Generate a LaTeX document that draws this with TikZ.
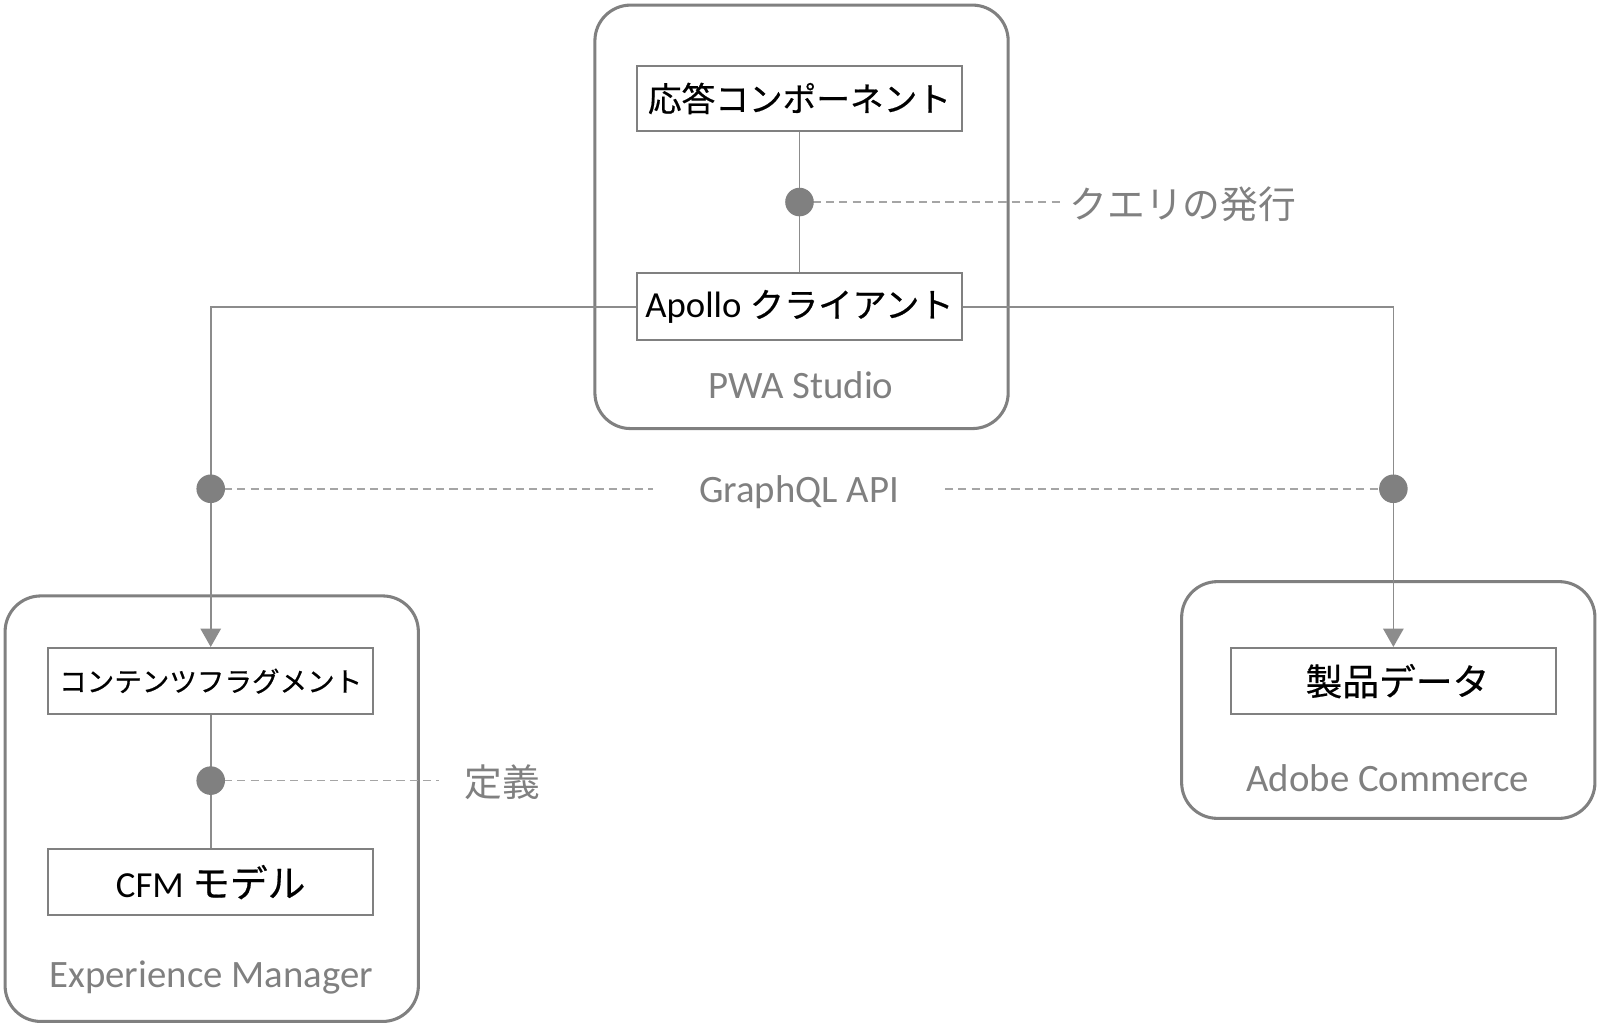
\documentclass[tikz,border=0pt]{standalone}
\usepackage{fontspec}
\setmainfont{Carlito}
\newfontfamily\jp{Noto Sans CJK JP}
\newfontfamily\jpb[FakeBold=0.5]{Noto Sans CJK JP}
\usetikzlibrary{arrows.meta}
\definecolor{cborder}{RGB}{128,128,128}
\definecolor{cline}{RGB}{140,140,140}
\definecolor{cdash}{RGB}{165,165,165}
\definecolor{ctext}{RGB}{128,128,128}
\newcommand{\jpsz}[1]{\fontsize{#1}{#1}\selectfont}
\tikzset{
  container/.style={draw=cborder, line width=3pt, rounded corners=35pt, rectangle, inner sep=0pt},
  compbox/.style={draw=cborder, line width=2pt, fill=white, rectangle, minimum width=319pt, minimum height=65pt, inner sep=0pt, font=\fontsize{36}{40}\selectfont},
  conn/.style={draw=cline, line width=1.7pt},
  dashconn/.style={draw=cdash, line width=1.6pt, dash pattern=on 8pt off 5pt},
  dot/.style={circle, fill=cborder, minimum size=28pt, inner sep=0pt},
  glabel/.style={text=ctext, font=\fontsize{38}{42}\selectfont, inner sep=0pt},
  arrowtip/.style={-{Triangle[length=18pt,width=20pt]}}
}
\begin{document}
\begin{tikzpicture}[x=1pt,y=-1pt]
\useasboundingbox (0,0) rectangle (1568,1008.4);
% containers
\node[container, minimum width=405pt, minimum height=415pt] (pwa) at (785.5,212.5) {};
\node[container, minimum width=405pt, minimum height=417pt] (aem) at (207.5,792.5) {};
\node[container, minimum width=405pt, minimum height=232pt] (acom) at (1360.5,686) {};
% container labels
\node[glabel] (pwalbl) at (785,377) {PWA Studio};
\node[glabel] (aemlbl) at (207,958) {Experience Manager};
\node[glabel] (acomlbl) at (1360,763) {Adobe Commerce};
% dots positions
\coordinate (d1) at (783.5,198);
\coordinate (d2) at (206.5,479);
\coordinate (d3) at (1365.5,479);
\coordinate (d4) at (206.5,765);
% inner boxes
\node[compbox, minimum height=63pt] (resp) at (783.5,96.5) {\jpb\jpsz{33}応答コンポーネント};
\node[compbox] (apollo) at (783.5,300.5) {Apollo {\jpb\jpsz{33.5}クライアント}};
\node[compbox] (cf) at (206.5,667.5) {\jpb\jpsz{27}コンテンツフラグメント};
\node[compbox] (cfm) at (206.5,864.5) {\fontsize{36}{40}\selectfont CFM {\jpb\jpsz{37}モデル}\hspace{16pt}};
\node[compbox] (prod) at (1365.5,667.5) {\hspace{8pt}\jpb\jpsz{36}製品データ};
% labels
\node[glabel, anchor=west, inner xsep=5pt] (query) at (1043,200) {\jp\jpsz{37}クエリの発行};
\node[glabel, inner xsep=45pt] (gql) at (783,482) {GraphQL API};
\node[glabel, anchor=west, inner xsep=25pt] (defn) at (430,767) {\jp\jpsz{37}定義};
% connectors
\draw[conn] (resp) -- (apollo);
\draw[conn, arrowtip] (apollo.west) -| (cf.north);
\draw[conn, arrowtip] (apollo.east) -| (prod.north);
\draw[conn] (cf) -- (cfm);
\draw[dashconn] (d1) -- (d1 -| query.west);
\draw[dashconn] (d2) -- (d2 -| gql.west);
\draw[dashconn] (d3 -| gql.east) -- (d3);
\draw[dashconn] (d4) -- (d4 -| defn.west);
% dots
\node[dot] (dot1) at (d1) {};
\node[dot] (dot2) at (d2) {};
\node[dot] (dot3) at (d3) {};
\node[dot] (dot4) at (d4) {};
\end{tikzpicture}
\end{document}
